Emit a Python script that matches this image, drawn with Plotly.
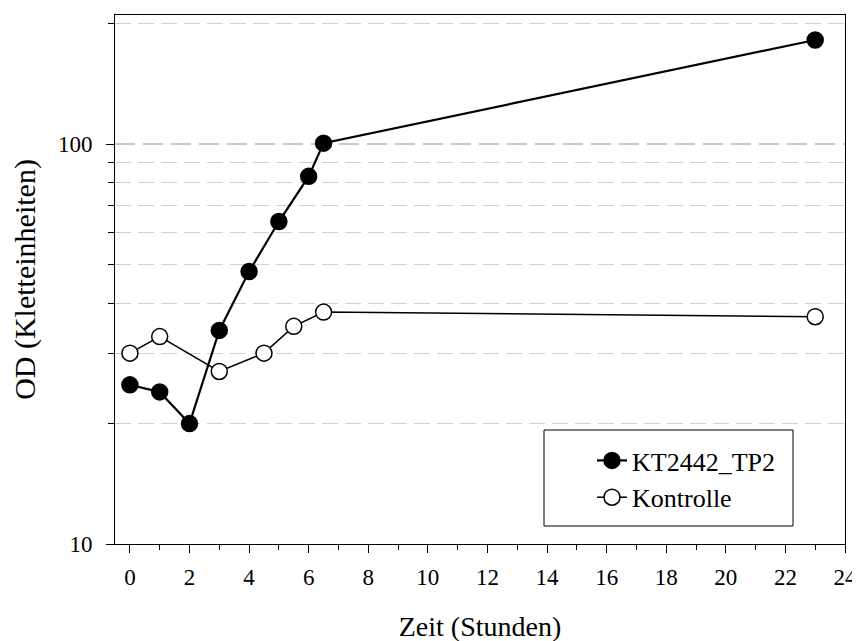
import plotly.graph_objects as go

time_kt = [0, 1, 2, 3, 4, 5, 6, 6.5, 23]
od_kt = [25, 24, 20, 34.2, 48, 64, 83, 100.5, 182]
time_ko = [0, 1, 3, 4.5, 5.5, 6.5, 23]
od_ko = [30, 33, 27, 30, 35, 38, 37]

series_names = ["KT2442_TP2", "Kontrolle"]
y_major = [10, 100]
y_minor = [20, 30, 40, 50, 60, 70, 80, 90, 200]
x_ticks = list(range(0, 25, 2))

font_family = "Liberation Serif"

# page body has an 8px margin; plot area placed at screen x 115..845, y 15..544
L, T, R, B = 107, 7, 23, 105
PW, PH = 860 - L - R, 641 - T - B


def px(x):
    return (x - 8 - L) / PW


def py(y):
    return (641 - B - (y - 8)) / PH


fig = go.Figure()
fig.add_trace(go.Scatter(
    x=time_kt, y=od_kt, mode="lines+markers", name=series_names[0],
    line=dict(color="black", width=2.2),
    marker=dict(symbol="circle", size=16, color="black", line=dict(color="black", width=1.5)),
    legendgroup="a",
))
fig.add_trace(go.Scatter(
    x=time_ko, y=od_ko, mode="lines+markers", name=series_names[1],
    line=dict(color="black", width=1.5),
    marker=dict(symbol="circle", size=16, color="white", line=dict(color="black", width=1.5)),
    legendgroup="b",
))

fig.update_layout(
    width=860, height=641,
    margin=dict(l=L, r=R, t=T, b=B, autoexpand=False),
    plot_bgcolor="white", paper_bgcolor="white",
    font=dict(family=font_family, size=23, color="black"),
    showlegend=True,
    legend=dict(
        x=px(592), y=py(437), xanchor="left", yanchor="top",
        bgcolor="rgba(0,0,0,0)", borderwidth=0,
        font=dict(size=26, family=font_family),
        tracegroupgap=0, traceorder="grouped",
    ),
    xaxis=dict(
        range=[-0.5, 24], tickmode="array", tickvals=x_ticks,
        ticks="outside", ticklen=8, tickwidth=1, tickcolor="black",
        showline=True, linecolor="black", linewidth=1, mirror=True,
        showgrid=False, zeroline=False, automargin=False,
        ticklabelstandoff=4,
        minor=dict(dtick=1, tick0=0, ticks="outside", ticklen=5, tickcolor="black", showgrid=False),
        title=dict(text="Zeit (Stunden)", font=dict(size=28), standoff=27),
        tickfont=dict(size=23),
    ),
    yaxis=dict(
        type="log", range=[1, 2.3225],
        tickmode="array", tickvals=y_major, ticktext=[str(v) for v in y_major],
        ticks="outside", ticklen=8, tickwidth=1, tickcolor="black",
        showline=True, linecolor="black", linewidth=1, mirror=True,
        showgrid=True, gridcolor="#c8c8c8", gridwidth=1.5, griddash="20px,8px",
        zeroline=False, automargin=False, ticklabelstandoff=9,
        minor=dict(tickmode="array", tickvals=y_minor, ticks="outside", ticklen=6,
                   tickcolor="black", showgrid=True, gridcolor="#d0d0d0",
                   gridwidth=1.2, griddash="16px,7px"),
        title=dict(text="OD (Kletteinheiten)", font=dict(size=30), standoff=18),
        tickfont=dict(size=23),
    ),
    shapes=[dict(type="rect", xref="paper", yref="paper",
                 x0=px(544), x1=px(793), y0=py(526), y1=py(430),
                 line=dict(color="black", width=1), fillcolor="rgba(0,0,0,0)")],
)

fig.write_html("out.html")
